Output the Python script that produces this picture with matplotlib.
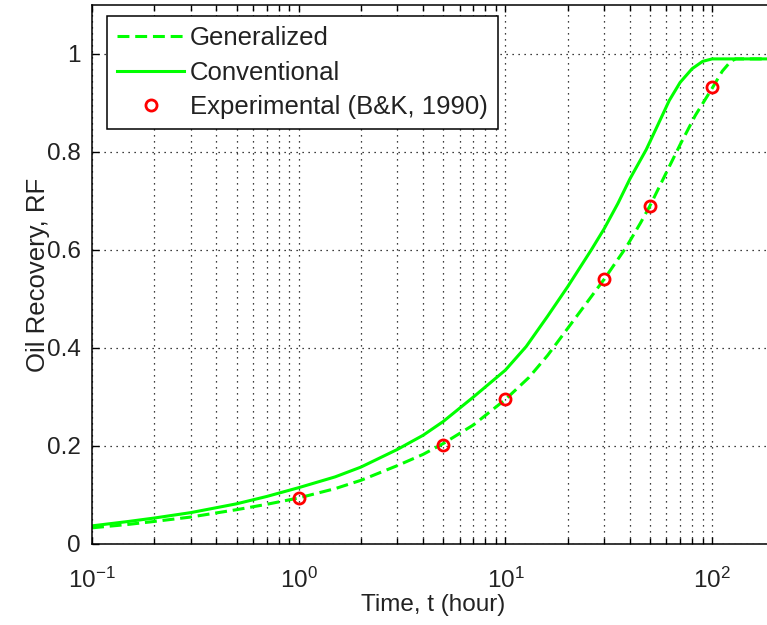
import matplotlib
matplotlib.use("Agg")
import matplotlib.pyplot as plt
from matplotlib.ticker import LogLocator, FormatStrFormatter, NullFormatter

plt.rcParams['font.family'] = ['Liberation Sans', 'DejaVu Sans']
plt.rcParams['mathtext.default'] = 'regular'

# Conventional model
t_conv = [0.1, 0.15, 0.2, 0.3, 0.5, 0.7, 1, 1.5, 2, 3, 4, 5, 7, 10, 12.6, 16,
          20, 26, 30, 35, 40, 48, 55, 62, 70, 80, 90, 100, 200]
rf_conv = [0.037, 0.046, 0.053, 0.064, 0.082, 0.097, 0.115, 0.137, 0.157,
           0.193, 0.222, 0.25, 0.30, 0.355, 0.403, 0.465, 0.525, 0.60, 0.643,
           0.695, 0.745, 0.805, 0.858, 0.905, 0.942, 0.97, 0.985, 0.99, 0.99]

# Generalized model
t_gen = [0.1, 0.15, 0.2, 0.3, 0.5, 0.7, 1, 1.5, 2, 3, 4, 5, 7, 10, 13, 16, 20,
         25, 30, 38.3, 45, 50, 62, 70, 83, 100, 112, 123, 130, 200]
rf_gen = [0.033, 0.040, 0.046, 0.055, 0.070, 0.081, 0.094, 0.113, 0.13, 0.16,
          0.183, 0.205, 0.243, 0.295, 0.34, 0.385, 0.44, 0.495, 0.54, 0.605,
          0.655, 0.69, 0.77, 0.815, 0.875, 0.93, 0.965, 0.985, 0.99, 0.99]

# Experimental data (B&K, 1990)
t_exp = [1, 5, 10, 30, 50, 100]
rf_exp = [0.093, 0.203, 0.295, 0.54, 0.69, 0.932]

y_ticks = [0, 0.2, 0.4, 0.6, 0.8, 1.0]

green = '#00ff00'
fs = 17.5

fig = plt.figure(figsize=(7.67, 6.25), dpi=100)
ax = fig.add_axes([0.12, 0.1296, 0.8896, 0.8624])

ax.plot(t_gen, rf_gen, color=green, lw=2.2, dashes=(3.9, 1.9),
        label='Generalized')
ax.plot(t_conv, rf_conv, color=green, lw=2.2, label='Conventional')
ax.plot(t_exp, rf_exp, 'o', ms=8, mfc='none', mec='red', mew=2.0,
        label='Experimental (B&K, 1990)')

ax.set_xscale('log')
ax.set_xlim(0.1, 200)
ax.set_ylim(0, 1.1)
ax.set_yticks(y_ticks)
ax.yaxis.set_major_formatter(FormatStrFormatter('%g'))
ax.xaxis.set_major_locator(LogLocator(base=10, numticks=10))
ax.xaxis.set_minor_locator(LogLocator(base=10, subs=range(2, 10), numticks=20))
ax.xaxis.set_minor_formatter(NullFormatter())

grid_style = dict(color='black', linestyle=(0, (1, 3.8)), linewidth=0.9)
ax.grid(True, which='major', axis='both', **grid_style)
ax.grid(True, which='minor', axis='x', **grid_style)

ax.tick_params(which='both', direction='in', top=True, right=True,
               labelsize=fs, width=1.0, labelcolor='#222222')
ax.tick_params(which='major', length=5)
ax.tick_params(which='minor', length=4)
ax.tick_params(axis='x', pad=17)
ax.tick_params(axis='y', pad=8)
for s in ax.spines.values():
    s.set_linewidth(1.1)

ax.set_xlabel('Time, t (hour)', fontsize=fs, color='#222222', labelpad=1)
ax.set_ylabel('Oil Recovery, RF', fontsize=fs + 1, color='#222222',
              labelpad=-2)

leg = ax.legend(loc='upper left', bbox_to_anchor=(0.022, 0.98), fontsize=18.5,
                fancybox=False, edgecolor='black', framealpha=1,
                handlelength=2.6, handletextpad=0.23, labelspacing=0.41,
                borderpad=0.4, borderaxespad=0)
leg.get_frame().set_linewidth(1.1)
for txt in leg.get_texts():
    txt.set_color('#222222')

fig.savefig('out.png', dpi=100)
